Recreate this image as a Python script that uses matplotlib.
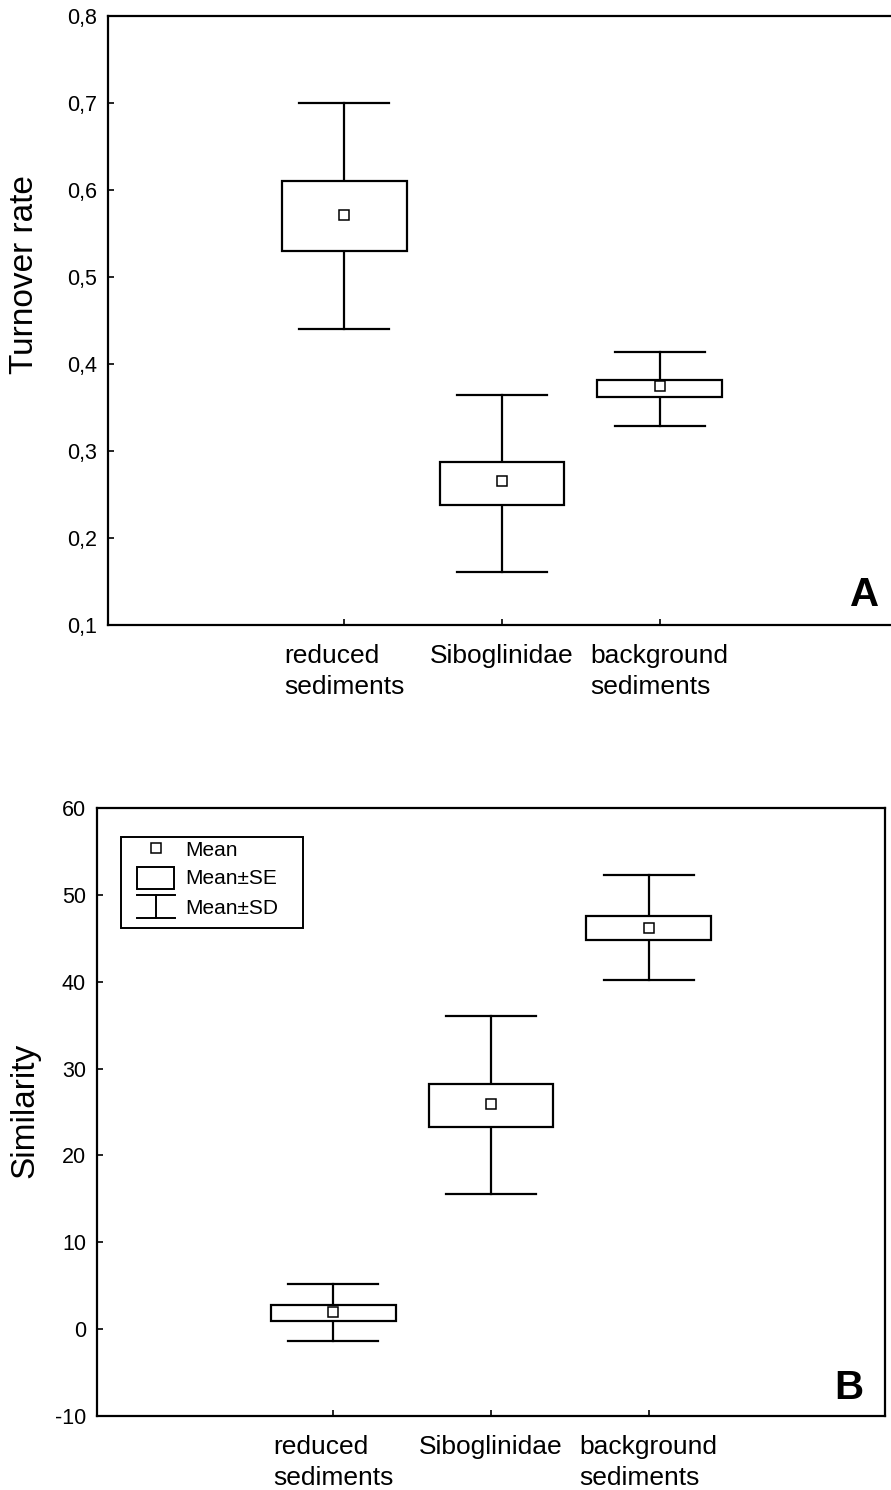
import numpy as np
import matplotlib.pyplot as plt
from matplotlib.patches import Rectangle
from matplotlib.lines import Line2D

plt.rcParams['font.family'] = ['Liberation Sans', 'DejaVu Sans']
plt.rcParams['axes.unicode_minus'] = False

groups = ['reduced\nsediments', 'Siboglinidae', 'background\nsediments']

# panel A: turnover rate
turn_mean = [0.571, 0.265, 0.375]
turn_se_lo = [0.530, 0.238, 0.362]
turn_se_hi = [0.610, 0.287, 0.382]
turn_sd_lo = [0.440, 0.161, 0.329]
turn_sd_hi = [0.700, 0.364, 0.414]

# panel B: similarity
sim_mean = [2.0, 25.9, 46.2]
sim_se_lo = [0.95, 23.3, 44.8]
sim_se_hi = [2.8, 28.2, 47.6]
sim_sd_lo = [-1.4, 15.6, 40.2]
sim_sd_hi = [5.2, 36.1, 52.3]

W, H = 891, 1490
fig = plt.figure(figsize=(W / 100, H / 100), dpi=100)

box_w = 0.79
cap_w = 0.57
lw = 1.6


def draw_boxes(ax, mean, se_lo, se_hi, sd_lo, sd_hi):
    xs = np.arange(1, len(mean) + 1)
    for x, m, a, b, c, d in zip(xs, mean, se_lo, se_hi, sd_lo, sd_hi):
        ax.plot([x, x], [b, d], color='k', lw=lw, zorder=2)
        ax.plot([x, x], [c, a], color='k', lw=lw, zorder=2)
        ax.plot([x - cap_w / 2, x + cap_w / 2], [d, d], color='k', lw=lw, zorder=2)
        ax.plot([x - cap_w / 2, x + cap_w / 2], [c, c], color='k', lw=lw, zorder=2)
        ax.add_patch(Rectangle((x - box_w / 2, a), box_w, b - a, facecolor='white',
                               edgecolor='k', lw=lw, zorder=3))
    ax.plot(xs, mean, 's', ms=7, mfc='white', mec='k', mew=1.1, zorder=4)
    ax.set_xticks(xs)
    ax.set_xticklabels(groups, fontsize=19, multialignment='left', linespacing=1.35)
    ax.set_xlim(-0.5, 4.5)
    ax.tick_params(direction='in', length=4, width=1.2, labelsize=15.5)
    ax.tick_params(axis='y', pad=8)
    ax.tick_params(axis='x', pad=14, labelsize=19)
    for s in ax.spines.values():
        s.set_linewidth(1.6)


def px_axes(left, top, right, bottom):
    return fig.add_axes([left / W, 1 - bottom / H, (right - left) / W, (bottom - top) / H])


# panel A
ax1 = px_axes(108, 16, 896, 625)
draw_boxes(ax1, turn_mean, turn_se_lo, turn_se_hi, turn_sd_lo, turn_sd_hi)
ax1.set_ylim(0.1, 0.8)
ax1.set_yticks(np.arange(0.1, 0.81, 0.1))
ax1.set_yticklabels([f'{v:.1f}'.replace('.', ',') for v in np.arange(0.1, 0.81, 0.1)])
ax1.text(0.978, 0.018, 'A', transform=ax1.transAxes, ha='right', va='bottom',
         fontsize=29, fontweight='bold')
fig.text(25 / W, 1 - 275 / H, 'Turnover rate', rotation=90, ha='center', va='center', fontsize=24)

# panel B
ax2 = px_axes(97, 808, 885, 1416)
draw_boxes(ax2, sim_mean, sim_se_lo, sim_se_hi, sim_sd_lo, sim_sd_hi)
ax2.set_ylim(-10, 60)
ax2.set_yticks(np.arange(-10, 61, 10))
ax2.text(0.973, 0.015, 'B', transform=ax2.transAxes, ha='right', va='bottom',
         fontsize=29, fontweight='bold')
fig.text(25 / W, 1 - 1110 / H, 'Similarity', rotation=90, ha='center', va='center', fontsize=24)


# legend drawn by hand like the original
def fx(px):
    return (px - 97) / 788


def fy(py):
    return 1 - (py - 808) / 608


t = ax2.transAxes
ax2.add_patch(Rectangle((fx(121), fy(928)), fx(303) - fx(121), fy(837) - fy(928),
                        transform=t, facecolor='white', edgecolor='k', lw=1.4, zorder=5))
ax2.add_line(Line2D([fx(156)], [fy(848)], marker='s', ms=7, mfc='white', mec='k', mew=1.1,
                    transform=t, zorder=6))
ax2.add_patch(Rectangle((fx(137), fy(889)), fx(174) - fx(137), fy(867) - fy(889),
                        transform=t, facecolor='white', edgecolor='k', lw=1.4, zorder=6))
for yy in (895, 918):
    ax2.add_line(Line2D([fx(137), fx(175)], [fy(yy), fy(yy)], color='k', lw=1.4,
                        transform=t, zorder=6))
ax2.add_line(Line2D([fx(156), fx(156)], [fy(895), fy(918)], color='k', lw=1.4,
                    transform=t, zorder=6))
for yy, lab in zip((850, 879, 908), ('Mean', 'Mean±SE', 'Mean±SD')):
    ax2.text(fx(185), fy(yy), lab, transform=t, ha='left', va='center', fontsize=15, zorder=7)

fig.savefig('out.png', dpi=100)
